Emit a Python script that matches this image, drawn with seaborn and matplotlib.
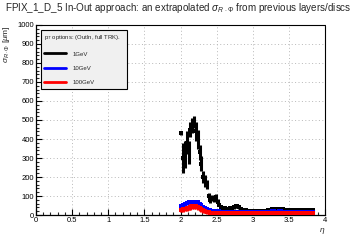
import numpy as np
import pandas as pd
import matplotlib
matplotlib.use("Agg")
import matplotlib.pyplot as plt
import seaborn as sns
from matplotlib.ticker import MultipleLocator

sns.set_theme(style="white")
plt.rcParams['font.family'] = ['Liberation Sans', 'DejaVu Sans']
plt.rcParams['mathtext.fontset'] = 'custom'
plt.rcParams['mathtext.rm'] = 'Liberation Sans'
plt.rcParams['mathtext.it'] = 'Liberation Sans:italic'

# ---- data ----
eta = [2.0125, 2.0375, 2.0625, 2.0875, 2.1125, 2.1375, 2.1625, 2.1875, 2.2125, 2.2375,
       2.2625, 2.2875, 2.3125, 2.3375, 2.3625, 2.3875, 2.4125, 2.4375, 2.4625, 2.4875,
       2.5125, 2.5375, 2.5625, 2.5875, 2.6125, 2.6375, 2.6625, 2.6875, 2.7125, 2.7375,
       2.7625, 2.7875, 2.8125, 2.8375, 2.8625, 2.8875, 2.9125, 2.9375, 2.9625, 2.9875,
       3.0125, 3.0375, 3.0625, 3.0875, 3.1125, 3.1375, 3.1625, 3.1875, 3.2125, 3.2375,
       3.2625, 3.2875, 3.3125, 3.3375, 3.3625, 3.3875, 3.4125, 3.4375, 3.4625, 3.4875,
       3.5125, 3.5375, 3.5625, 3.5875, 3.6125, 3.6375, 3.6625, 3.6875, 3.7125, 3.7375,
       3.7625, 3.7875, 3.8125, 3.8375]
sigma_1gev = [430, 300, 320, 380, 330, 450, 470, 490, 440, 400,
              330, 270, 200, 180, 160, 100, 80, 90, 85, 95,
              70, 55, 40, 35, 35, 30, 30, 35, 35, 40,
              45, 45, 40, 30, 25, 25, 25, 22, 22, 22,
              22, 22, 22, 22, 22, 22, 22, 22, 25, 28,
              30, 30, 30, 30, 30, 30, 30, 28, 26, 25,
              25, 25, 25, 25, 25, 25, 25, 25, 25, 25,
              25, 25, 25, 25]
err_1gev = [10, 80, 70, 60, 60, 40, 40, 30, 50, 50,
            40, 40, 30, 30, 25, 15, 15, 15, 15, 15,
            15, 10, 10, 8, 8, 6, 6, 6, 6, 6,
            6, 6, 6, 5, 5, 5, 5, 5, 5, 5,
            5, 5, 5, 5, 5, 5, 5, 5, 5, 5,
            5, 5, 5, 5, 5, 5, 5, 5, 5, 5,
            5, 5, 5, 5, 5, 5, 5, 5, 5, 5,
            5, 5, 5, 5]
sigma_10gev = [50, 55, 58, 62, 66, 68, 70, 70, 68, 66,
               58, 52, 42, 36, 30, 26, 24, 22, 20, 20,
               19, 19, 18, 18, 18, 18, 18, 18, 18, 18,
               18, 18, 18, 18, 18, 18, 18, 18, 18, 18,
               18, 18, 18, 18, 18, 18, 18, 18, 18, 18,
               20, 20, 18, 18, 20, 20, 18, 18, 18, 18,
               18, 18, 18, 18, 18, 18, 18, 18, 18, 18,
               18, 18, 18, 18]
err_10gev = [10] * 12 + [7] * 8 + [6] * 54
sigma_100gev = [28, 30, 33, 35, 38, 42, 45, 46, 45, 42,
                36, 30, 24, 20, 16, 14, 13, 12, 12, 12,
                12, 12, 12, 12, 12, 12, 12, 12, 12, 12,
                12, 12, 12, 12, 12, 12, 12, 12, 12, 12,
                12, 12, 12, 12, 12, 12, 12, 12, 12, 12,
                12, 12, 12, 12, 12, 12, 12, 12, 12, 12,
                12, 12, 12, 12, 12, 12, 12, 12, 12, 12,
                12, 12, 12, 12]
err_100gev = [14] * 12 + [11] * 62
labels = ["1GeV", "10GeV", "100GeV"]
colors = ["black", "blue", "red"]
half_bin = 0.0125

fig = plt.figure(figsize=(3.6, 2.4), dpi=100)
ax = fig.add_axes([0.1, 0.104, 0.803, 0.792])

series = [(sigma_1gev, err_1gev), (sigma_10gev, err_10gev), (sigma_100gev, err_100gev)]
for (vals, errs), lab, col in zip(series, labels, colors):
    df = pd.DataFrame({"eta": eta, "sigma": vals})
    ax.errorbar(eta, vals, yerr=errs, xerr=half_bin, fmt='none', ecolor=col,
                elinewidth=2.2, capsize=0, zorder=3)
    sns.scatterplot(data=df, x="eta", y="sigma", marker='s', s=12, color=col,
                    edgecolor=col, linewidth=0, ax=ax, zorder=4, legend=False)

ax.set_xlim(0, 4)
ax.set_ylim(0, 1000)
ax.xaxis.set_major_locator(MultipleLocator(0.5))
ax.xaxis.set_minor_locator(MultipleLocator(0.1))
ax.yaxis.set_major_locator(MultipleLocator(100))
ax.yaxis.set_minor_locator(MultipleLocator(20))
ax.xaxis.set_major_formatter(matplotlib.ticker.FuncFormatter(lambda v, p: f"{v:g}"))
ax.tick_params(which='major', direction='in', length=4, width=0.8, labelsize=5.5,
               pad=1.5, colors='black', bottom=True, left=True)
ax.tick_params(which='minor', direction='in', length=2, width=0.8, bottom=True, left=True)
ax.grid(True, which='major', linestyle=(0, (1, 2.5)), color='#b8b8b8', linewidth=0.7)
ax.set_axisbelow(True)
for s in ['left', 'bottom']:
    ax.spines[s].set_color('black')
    ax.spines[s].set_linewidth(0.9)
for s in ['top', 'right']:
    ax.spines[s].set_color('black')
    ax.spines[s].set_linewidth(0.8)
    ax.spines[s].set_linestyle((0, (2, 1)))

ax.set_xlabel(r"$\eta$", loc='right', fontsize=6, labelpad=1)
ax.set_ylabel(r"$\sigma_{R\cdot\Phi}$ [$\mu$m]", loc='top', fontsize=6, labelpad=4)

fig.text(0.014, 0.965, r"FPIX_1_D_5 In-Out approach: an extrapolated $\sigma_{R\cdot\Phi}$ from previous layers/discs",
         fontsize=7.1, ha='left', va='center')

# legend box
handles = [plt.Line2D([], [], color=c, lw=2) for c in colors]
leg = ax.legend(handles, labels, loc='upper left', bbox_to_anchor=(0.006, 0.99, 0.318, 0),
                mode='expand',
                title=r"p$_T$ options: (OutIn, full TRK).", title_fontsize=4.3,
                fontsize=4.3, frameon=True, fancybox=False, handlelength=3.6,
                labelspacing=1.55, borderpad=0.55, handletextpad=1.2)
leg._legend_box.align = "left"
frame = leg.get_frame()
frame.set_facecolor('#f0f0f0')
frame.set_edgecolor('black')
frame.set_linewidth(0.8)
frame.set_alpha(1)

fig.savefig("out.png", dpi=100)
